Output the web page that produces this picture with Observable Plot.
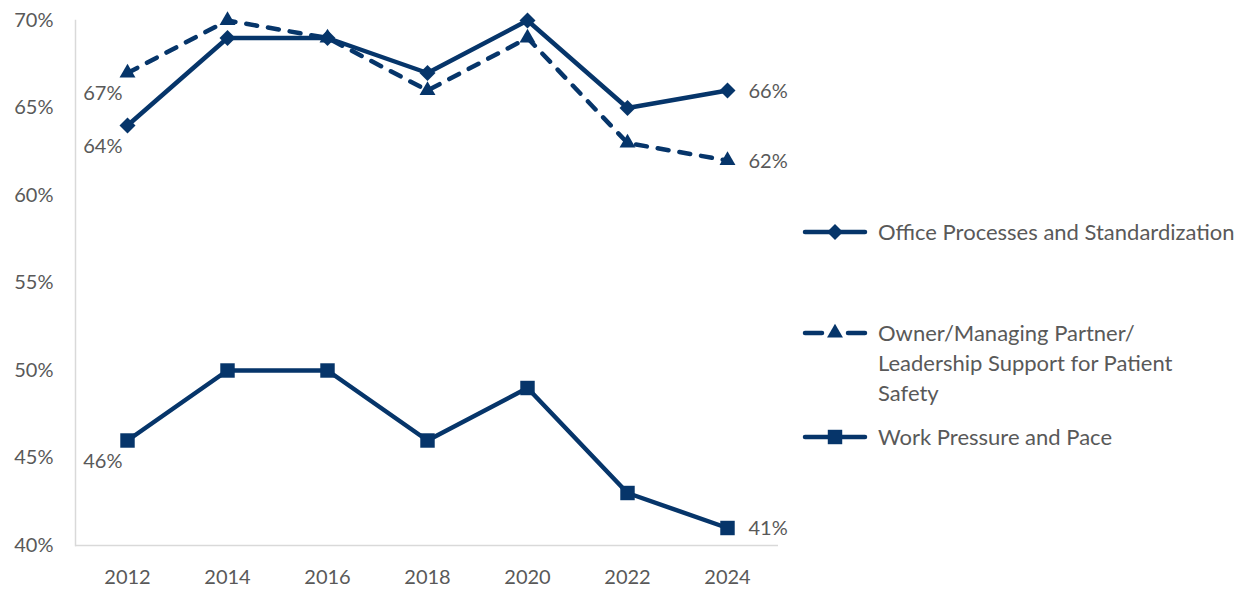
<!DOCTYPE html>
<html>
<head>
<meta charset="utf-8">
<script src="https://cdn.jsdelivr.net/npm/d3@7"></script>
<script src="https://cdn.jsdelivr.net/npm/@observablehq/plot@0.6"></script>
<style>
  body { margin: 0; background: #fff; font-family: Lato, "Open Sans", sans-serif; color: #595959; }
  #wrap { position: relative; width: 1250px; height: 591px; }
  #chart { position: absolute; left: 0; top: 0; }
  .lg { position: absolute; left: 800px; display: flex; align-items: flex-start; font-size: 22px; line-height: 30px; color: #595959; }
  .lg svg { flex: none; margin-right: 8px; margin-top: 5px; }
</style>
</head>
<body>
<div id="wrap"><div id="chart"></div></div>
<script>
const years = ["2012", "2014", "2016", "2018", "2020", "2022", "2024"];
const seriesNames = [
  "Office Processes and Standardization",
  "Owner/Managing Partner/ Leadership Support for Patient Safety",
  "Work Pressure and Pace"
];
const legendLines = [
  ["Office Processes and Standardization"],
  ["Owner/Managing Partner/", "Leadership Support for Patient", "Safety"],
  ["Work Pressure and Pace"]
];
const officeValues = [64, 69, 69, 67, 70, 65, 66];
const ownerValues  = [67, 70, 69, 66, 69, 63, 62];
const workValues   = [46, 50, 50, 46, 49, 43, 41];
const yTicks = [40, 45, 50, 55, 60, 65, 70];

const navy = "#06356a";
const textColor = "#595959";
const symbols = ["diamond2", "triangle2", "square2"];
const symbolR = [7.2, 7.6, 9.2];
const dashes = [null, "11,11", null];

const allValues = [officeValues, ownerValues, workValues];
const rows = [];
allValues.forEach((vals, s) => vals.forEach((v, i) => rows.push({series: seriesNames[s], s, year: years[i], i, value: v})));

const marks = [
  Plot.ruleY([40], {stroke: "#d9d9d9", strokeWidth: 1.5}),
  Plot.frame({anchor: "left", stroke: "#d9d9d9", strokeWidth: 1.5}),
  Plot.axisY({ticks: yTicks, tickSize: 0, tickPadding: 22, tickFormat: d => d + "%", fontSize: 20, fill: textColor}),
  Plot.axisX({tickSize: 0, tickPadding: 24, fontSize: 20, fill: textColor})
];
seriesNames.forEach((name, s) => {
  const data = rows.filter(d => d.s === s);
  marks.push(Plot.line(data, {x: "year", y: "value", stroke: navy, strokeWidth: 4.5, strokeDasharray: dashes[s] || undefined, strokeLinecap: dashes[s] ? "round" : "butt", strokeLinejoin: "miter"}));
  marks.push(Plot.dot(data, {x: "year", y: "value", symbol: () => symbols[s], r: symbolR[s], fill: navy, stroke: "none"}));
  marks.push(Plot.text(data.filter(d => d.i === 0), {x: "year", y: "value", text: d => d.value + "%", textAnchor: "end", dx: -5, dy: 21, fontSize: 20, fill: textColor}));
  marks.push(Plot.text(data.filter(d => d.i === years.length - 1), {x: "year", y: "value", text: d => d.value + "%", textAnchor: "start", dx: 21, dy: 1, fontSize: 20, fill: textColor}));
});

const chart = Plot.plot({
  width: 800,
  height: 591,
  marginLeft: 75,
  marginRight: 22,
  marginTop: 20,
  marginBottom: 46,
  style: {fontFamily: "Lato, 'Open Sans', sans-serif", color: textColor, background: "#fff", overflow: "visible"},
  x: {type: "point", domain: years, padding: 0.5, label: null},
  y: {domain: [40, 70], label: null},
  symbol: {type: "identity"},
  marks
});
document.getElementById("chart").appendChild(chart);

// Legend
const wrap = document.getElementById("wrap");
const legendTops = [217, 318, 422];
legendLines.forEach((lines, s) => {
  const item = document.createElement("div");
  item.className = "lg";
  item.style.top = legendTops[s] + "px";
  const svg = d3.create("svg").attr("width", 70).attr("height", 20);
  svg.append("line").attr("x1", 5).attr("x2", 65).attr("y1", 10).attr("y2", 10)
    .attr("stroke", navy).attr("stroke-width", 4.5)
    .attr("stroke-linecap", "round")
    .attr("stroke-dasharray", dashes[s] ? "17,26,17" : null);
  const symType = [d3.symbolDiamond2, d3.symbolTriangle2, d3.symbolSquare2][s];
  svg.append("path").attr("transform", "translate(35,10)")
    .attr("d", d3.symbol(symType, Math.PI * symbolR[s] * symbolR[s])())
    .attr("fill", navy);
  item.appendChild(svg.node());
  const txt = document.createElement("div");
  txt.innerHTML = lines.join("<br>");
  item.appendChild(txt);
  wrap.appendChild(item);
});
</script>
</body>
</html>
